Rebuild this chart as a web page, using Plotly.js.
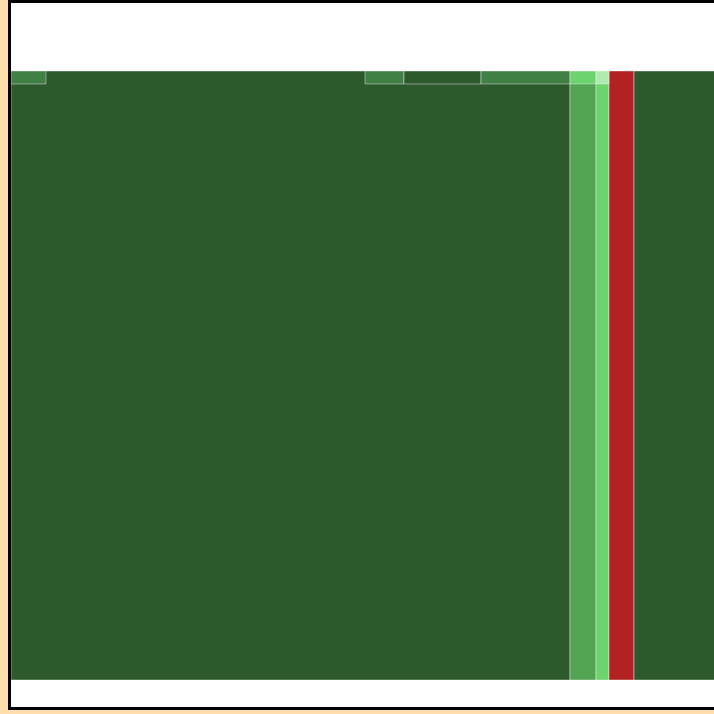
<!DOCTYPE html>
<html><head><meta charset="utf-8">
<script src="https://cdn.plot.ly/plotly-3.0.1.min.js"></script>
<style>
html,body{margin:0;padding:0;overflow:hidden;background:#ffdead;width:714px;height:714px}
#chart{position:absolute;left:8px;top:0;width:780px;height:704px;border:3px solid #000;background:#fff}
</style></head><body><div id="chart"></div>
<script>
// Column groups (widths as shares of the full width) and their colours
const columnLabels = ["A", "B", "C", "D", "E"];
const columnValues = [559, 26, 13, 25, 157];
const columnColors = ["#2d5a2d", "#52a352", "#6dd36f", "#b22222", "#2d5a2d"];
// Thin top strip segments (sub-groups); null colour = no segment
const stripLabels = ["A1", "A2", "A3", "A4", "A5", "B1", "C1"];
const stripValues = [35, 319, 39, 77, 89, 26, 13];
const stripColors = ["#408045", null, "#408045", "#2d5a2d", "#408045", "#6dd36f", "#b0eab0"];
// Heights in percent of the full column
const columnHeight = 100;
const stripHeight = 2.13;

function centers(vals) {
  let acc = 0; const c = [];
  vals.forEach(v => { c.push(acc + v / 2); acc += v; });
  return c;
}
const total = columnValues.reduce((a, b) => a + b, 0);
const colX = centers(columnValues);
const stripX = centers(stripValues);

const sx = [], sw = [], sc = [], sl = [];
stripValues.forEach((v, i) => {
  if (stripColors[i]) { sx.push(stripX[i]); sw.push(v); sc.push(stripColors[i]); sl.push(stripLabels[i]); }
});

const lineStyle = { color: "rgba(255,255,255,0.4)", width: 1 };
const traces = [
  {
    type: "bar", x: colX, y: columnValues.map(() => columnHeight), width: columnValues,
    base: 0, text: columnLabels, textposition: "none", hoverinfo: "text",
    marker: { color: columnColors, line: lineStyle }
  },
  {
    type: "bar", x: sx, y: sx.map(() => stripHeight), width: sw,
    base: columnHeight - stripHeight, text: sl, textposition: "none", hoverinfo: "text",
    marker: { color: sc, line: lineStyle }
  }
];

const layout = {
  width: 780, height: 704,
  margin: { l: 0, r: 0, t: 68, b: 27, pad: 0 },
  paper_bgcolor: "#ffffff", plot_bgcolor: "#ffffff",
  showlegend: false, barmode: "overlay",
  xaxis: { range: [0, total], visible: false, fixedrange: true },
  yaxis: { range: [0, columnHeight], visible: false, fixedrange: true }
};
Plotly.newPlot("chart", traces, layout, { displayModeBar: false, staticPlot: true });
</script></body></html>
